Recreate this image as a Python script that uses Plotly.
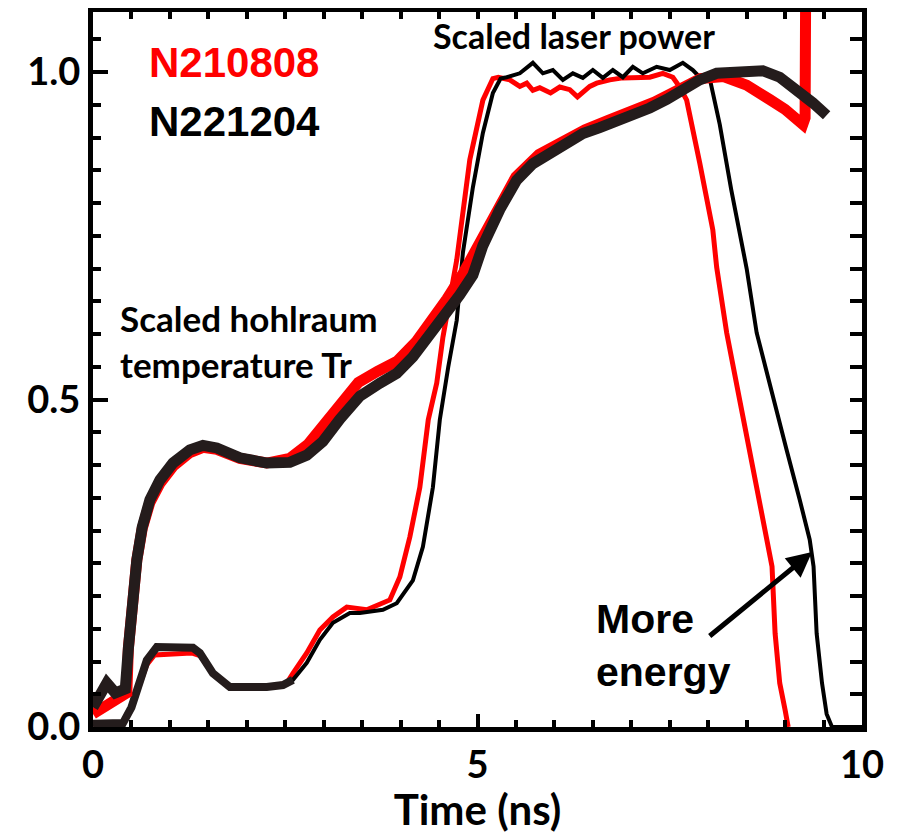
import plotly.graph_objects as go

# ---------------- data ----------------
# Scaled hohlraum temperature Tr
T_TR_BLACK = [0.0, 0.18, 0.29, 0.42, 0.46, 0.51, 0.57, 0.64, 0.74, 0.87, 1.04, 1.26, 1.43,
              1.61, 1.91, 2.26, 2.56, 2.78, 2.99, 3.21, 3.47, 3.73, 3.95, 4.16, 4.38, 4.6,
              4.77, 4.94, 5.07, 5.29, 5.51, 5.72, 5.94, 6.16, 6.37, 6.59, 6.81, 7.02, 7.24,
              7.46, 7.67, 7.89, 8.11, 8.32, 8.54, 8.71, 8.93, 9.15, 9.36, 9.54]
TR_BLACK = [0.03, 0.067, 0.052, 0.058, 0.12, 0.194, 0.255, 0.305, 0.347, 0.377, 0.403, 0.423, 0.43,
            0.426, 0.411, 0.403, 0.404, 0.415, 0.436, 0.47, 0.505, 0.525, 0.54, 0.565, 0.598, 0.632,
            0.66, 0.69, 0.735, 0.79, 0.835, 0.86, 0.877, 0.893, 0.906, 0.915, 0.925, 0.933, 0.945,
            0.958, 0.973, 0.988, 0.998, 1.0, 0.998, 1.002, 0.992, 0.973, 0.953, 0.934]

T_TR_RED = [0.0, 0.2, 0.44, 0.46, 0.51, 0.57, 0.64, 0.74, 0.87, 1.04, 1.26, 1.43, 1.61, 1.91,
            2.26, 2.56, 2.8, 3.0, 3.2, 3.45, 3.7, 3.95, 4.2, 4.4, 4.6, 4.8, 5.0, 5.2, 5.5,
            5.8, 6.1, 6.4, 6.7, 7.0, 7.3, 7.6, 7.9, 8.2, 8.5, 8.8, 9.0, 9.23, 9.26, 9.27]
TR_RED = [0.02, 0.035, 0.052, 0.12, 0.194, 0.255, 0.303, 0.343, 0.372, 0.398, 0.419, 0.427, 0.424, 0.41,
          0.403, 0.41, 0.432, 0.461, 0.494, 0.526, 0.543, 0.558, 0.588, 0.618, 0.653, 0.69, 0.731, 0.779, 0.84,
          0.874, 0.894, 0.912, 0.926, 0.938, 0.954, 0.972, 0.99, 0.993, 0.98, 0.958, 0.943, 0.92, 0.93, 1.2]

# Scaled laser power
T_LP_RED = [0.0, 0.38, 0.5, 0.61, 0.7, 0.8, 1.05, 1.28, 1.39, 1.56, 1.78, 1.95, 2.26, 2.52, 2.6,
            2.78, 2.95, 3.12, 3.3, 3.38, 3.56, 3.86, 3.99, 4.12, 4.25, 4.36, 4.47, 4.55, 4.73,
            4.9, 4.99, 5.07, 5.2, 5.27, 5.42, 5.55, 5.64, 5.72, 5.81, 5.95, 6.07, 6.2, 6.3, 6.37,
            6.46, 6.55, 6.72, 6.89, 7.07, 7.24, 7.41, 7.54, 7.63, 7.72, 7.89, 8.06, 8.11, 8.24,
            8.41, 8.58, 8.76, 8.83, 8.87, 8.93, 9.0, 9.04]
LP_RED = [0.005, 0.006, 0.03, 0.068, 0.095, 0.11, 0.112, 0.113, 0.109, 0.082, 0.061, 0.06, 0.061, 0.067, 0.082,
          0.113, 0.148, 0.168, 0.183, 0.182, 0.179, 0.194, 0.229, 0.29, 0.366, 0.469, 0.525, 0.595, 0.713,
          0.866, 0.916, 0.957, 0.99, 0.992, 0.988, 0.978, 0.983, 0.972, 0.976, 0.968, 0.977, 0.973, 0.962, 0.969,
          0.978, 0.983, 0.988, 0.991, 0.991, 0.992, 0.998, 0.992, 0.977, 0.957, 0.861, 0.759, 0.702, 0.602,
          0.499, 0.397, 0.296, 0.245, 0.143, 0.067, 0.026, 0.0]

T_LP_BLACK = [0.0, 0.39, 0.5, 0.61, 0.7, 0.83, 1.04, 1.3, 1.39, 1.56, 1.78, 1.95, 2.26, 2.47, 2.6,
              2.78, 2.95, 3.12, 3.34, 3.47, 3.77, 3.95, 4.16, 4.29, 4.42, 4.51, 4.62, 4.73, 4.81,
              4.94, 5.07, 5.2, 5.3, 5.38, 5.55, 5.72, 5.85, 5.98, 6.11, 6.24, 6.37, 6.5, 6.63,
              6.76, 6.89, 7.02, 7.15, 7.33, 7.5, 7.67, 7.8, 7.89, 8.02, 8.15, 8.3, 8.5, 8.63,
              8.85, 9.02, 9.19, 9.32, 9.37, 9.41, 9.48, 9.54, 9.61, 10.0]
LP_BLACK = [0.005, 0.006, 0.03, 0.072, 0.102, 0.122, 0.122, 0.121, 0.113, 0.082, 0.061, 0.06, 0.061, 0.064, 0.072,
            0.098, 0.133, 0.159, 0.174, 0.174, 0.179, 0.189, 0.224, 0.275, 0.366, 0.469, 0.55, 0.621, 0.724,
            0.824, 0.907, 0.968, 0.99, 0.992, 0.998, 1.014, 0.998, 1.003, 0.988, 0.998, 0.991, 1.003, 0.991,
            1.003, 0.992, 1.008, 0.998, 1.008, 1.003, 1.014, 1.003, 0.992, 0.99, 0.92, 0.82, 0.70, 0.602,
            0.499, 0.423, 0.347, 0.286, 0.245, 0.143, 0.067, 0.02, 0.0, 0.0]

X_TICKS = [0, 5, 10]
Y_TICKS = [0.0, 0.5, 1.0]

RED = "#ff0000"
BLACK = "#000000"
DARK = "#241c1c"

# number of early black-laser points drawn with the thicker stroke
N_THICK = 15

fig = go.Figure()
fig.add_trace(go.Scatter(x=T_LP_RED, y=LP_RED, mode="lines",
                         line=dict(color=RED, width=5), showlegend=False))
fig.add_trace(go.Scatter(x=T_LP_BLACK, y=LP_BLACK, mode="lines",
                         line=dict(color=BLACK, width=4), showlegend=False))
fig.add_trace(go.Scatter(x=T_LP_BLACK[:N_THICK], y=LP_BLACK[:N_THICK], mode="lines",
                         line=dict(color=DARK, width=8), showlegend=False))
fig.add_trace(go.Scatter(x=T_TR_RED, y=TR_RED, mode="lines",
                         line=dict(color=RED, width=11), showlegend=False))
fig.add_trace(go.Scatter(x=T_TR_BLACK, y=TR_BLACK, mode="lines",
                         line=dict(color=DARK, width=11), showlegend=False))
# empty trace so the top/right tick-only axes get drawn
fig.add_trace(go.Scatter(x=[], y=[], xaxis="x2", yaxis="y2", mode="lines",
                         showlegend=False, hoverinfo="skip"))

calib = "Lato, 'Open Sans', sans-serif"
arial = "'Liberation Sans', Arial, sans-serif"

Y_TOP = 1.0916

# the page body has an 8px margin, so the figure is 8px smaller than the window
fig.update_layout(
    width=889, height=826,
    margin=dict(l=85, r=35, t=4, b=107, autoexpand=False),
    paper_bgcolor="white", plot_bgcolor="white",
    xaxis=dict(range=[0, 10], tickvals=X_TICKS, ticktext=[str(v) for v in X_TICKS],
               ticks="inside", ticklen=13, tickwidth=4, tickcolor=BLACK,
               minor=dict(dtick=0.5, ticks="inside", ticklen=7, tickwidth=4, tickcolor=BLACK),
               showline=True, linewidth=5, linecolor=BLACK, mirror=True,
               showgrid=False, zeroline=False, automargin=False,
               tickfont=dict(family=calib, size=38, color=BLACK, weight="bold"),
               title=dict(text="Time (ns)", font=dict(family=calib, size=42, color=BLACK, weight="bold"),
                          standoff=12)),
    yaxis=dict(range=[0, Y_TOP], tickvals=Y_TICKS, tickformat=".1f",
               ticks="inside", ticklen=15, tickwidth=4, tickcolor=BLACK,
               minor=dict(dtick=0.05, ticks="inside", ticklen=8, tickwidth=4, tickcolor=BLACK),
               showline=True, linewidth=5, linecolor=BLACK, mirror=True,
               showgrid=False, zeroline=False, automargin=False,
               tickfont=dict(family=calib, size=38, color=BLACK, weight="bold")),
    xaxis2=dict(overlaying="x", side="top", anchor="y", range=[0, 10], tickmode="linear", tick0=0, dtick=0.5,
                ticks="inside", ticklen=7, tickwidth=4, tickcolor=BLACK, showticklabels=False,
                showgrid=False, zeroline=False, showline=False),
    yaxis2=dict(overlaying="y", side="right", anchor="x", range=[0, Y_TOP], tickmode="linear", tick0=0,
                dtick=0.05, ticks="inside", ticklen=12, tickwidth=4, tickcolor=BLACK, showticklabels=False,
                showgrid=False, zeroline=False, showline=False),
)

annots = [
    dict(x=0.70, y=1.014, text="N210808", font=dict(family=arial, size=42, color=RED, weight="bold")),
    dict(x=0.70, y=0.924, text="N221204", font=dict(family=arial, size=42, color=BLACK, weight="bold")),
    dict(x=0.33, y=0.59, text="Scaled hohlraum<br>temperature Tr",
         font=dict(family=calib, size=35, color=BLACK, weight="bold")),
    dict(x=4.40, y=1.055, text="Scaled laser power",
         font=dict(family=calib, size=34, color=BLACK, weight="bold")),
    dict(x=6.52, y=0.125, text="More<br>energy",
         font=dict(family=arial, size=41, color=BLACK, weight="bold")),
]
for a in annots:
    fig.add_annotation(xref="x", yref="y", xanchor="left", yanchor="middle",
                       showarrow=False, align="left", **a)

fig.add_annotation(xref="x", yref="y", axref="x", ayref="y",
                   x=9.35, y=0.267, ax=8.0, ay=0.137, text="",
                   showarrow=True, arrowhead=2, arrowsize=1.0, arrowwidth=5, arrowcolor=BLACK)

fig.write_html("out.html")
